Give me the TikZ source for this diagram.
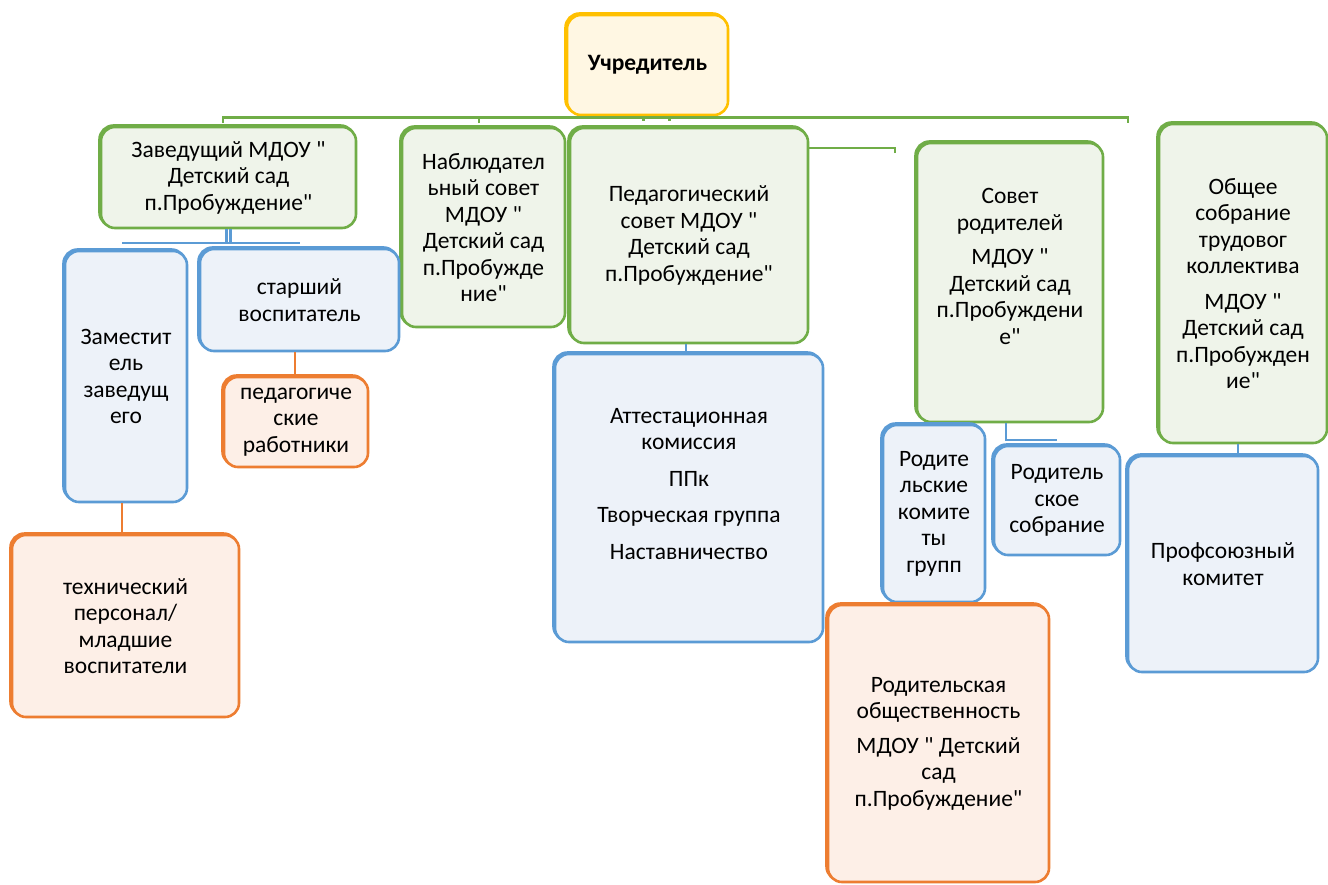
\documentclass[tikz,border=0pt]{standalone}
\usepackage{fontspec}
\setmainfont{Carlito}[Ligatures=TeXOff]
\usetikzlibrary{calc}
\definecolor{gB}{HTML}{70AD47}
\definecolor{gF}{HTML}{EFF4EA}
\definecolor{bB}{HTML}{5B9BD5}
\definecolor{bF}{HTML}{EDF2F9}
\definecolor{oB}{HTML}{ED7D31}
\definecolor{oF}{HTML}{FDEFE7}
\definecolor{yB}{HTML}{FFC000}
\definecolor{yF}{HTML}{FFF7E3}
\newcommand\diagfont{\fontsize{23.5}{26.5}\selectfont}
\begin{document}
\begin{tikzpicture}[x=1pt,y=-1pt,
  box/.style={rounded corners=14, line width=2.6, inner sep=0, align=center, font=\diagfont},
  gbox/.style={box, draw=gB, fill=gF, preaction={draw=gB, line width=2.6, transform canvas={shift={(-1.5pt,1.5pt)}}}},
  bbox/.style={box, draw=bB, fill=bF, preaction={draw=bB, line width=2.6, transform canvas={shift={(-1.5pt,1.5pt)}}}},
  obox/.style={box, draw=oB, fill=oF, preaction={draw=oB, line width=2.6, transform canvas={shift={(-1.5pt,1.5pt)}}}},
  ybox/.style={box, draw=yB, fill=yF, preaction={draw=yB, line width=2.6, transform canvas={shift={(-1.5pt,1.5pt)}}}},
  gline/.style={draw=gB, line width=2.5},
  bline/.style={draw=bB, line width=2.5},
  oline/.style={draw=oB, line width=2.5},
  lbl/.style={font=\diagfont, align=center}]
\useasboundingbox[fill=white] (0,0) rectangle (1328,884);

% boxes
\node[ybox, minimum width=161, minimum height=100] (uch) at (647.5,65) {\textbf{Учредитель}};
\node[gbox, minimum width=255, minimum height=101] (zav) at (228.5,177.5) {Заведущий МДОУ "\\Детский сад\\п.Пробуждение"};
\node[gbox, minimum width=163, minimum height=199] (nab) at (483.5,227.5) {Наблюдател\\ьный совет\\МДОУ "\\Детский сад\\п.Пробужде\\ние"};
\node[gbox, minimum width=238, minimum height=215] (ped) at (689,235.5) {Педагогический\\совет МДОУ "\\Детский сад\\п.Пробуждение"};
\node[gbox, minimum width=186, minimum height=279,
  label={[lbl, yshift=16]center:{Совет\\родителей\\[8pt]МДОУ "\\Детский сад\\п.Пробуждени\\е"}}] (sov) at (1010,282.5) {};
\node[gbox, minimum width=168, minimum height=319] (obs) at (1243,283.5) {Общее\\собрание\\трудовог\\коллектива\\[9pt]МДОУ "\\Детский сад\\п.Пробужден\\ие"};
\node[bbox, minimum width=122, minimum height=251] (zam) at (126,376.5) {Заместит\\ель\\заведущ\\его};
\node[bbox, minimum width=199, minimum height=102] (star) at (299.5,300) {старший\\воспитатель};
\node[obox, minimum width=144, minimum height=90] (pr) at (296,422) {педагогиче\\ские\\работники};
\node[obox, minimum width=227, minimum height=182] (teh) at (125.5,626) {технический\\персонал/\\младшие\\воспитатели};
\node[bbox, minimum width=268, minimum height=288,
  label={[lbl, yshift=14]center:{Аттестационная\\комиссия\\[10pt]ППк\\[10pt]Творческая группа\\[10pt]Наставничество}}] (att) at (689,498) {};
\node[bbox, minimum width=102, minimum height=177] (rk) at (934,513.5) {Родите\\льские\\комите\\ты\\групп};
\node[bbox, minimum width=126, minimum height=109] (rs) at (1057,500.5) {Родитель\\ское\\собрание};
\node[obox, minimum width=221, minimum height=277] (ro) at (938.5,743.5) {Родительская\\общественность\\[8pt]МДОУ " Детский\\сад\\п.Пробуждение"};
\node[bbox, minimum width=190, minimum height=216] (prof) at (1223,564) {Профсоюзный\\комитет};

% green bus under the founder
\coordinate (bus) at (0,117.5);
\coordinate (bL) at (223,123);
\coordinate (bM) at (479,123);
\coordinate (bR) at (1128,123);
\draw[gline] (bL) -- (bL |- bus) -- (bR |- bus) -- (bR);
\draw[gline] (bM) -- (bM |- bus);
\draw[gline] (uch.south) -- (uch.south |- bus);
\draw[gline] ([xshift=-4]uch.south) -- ++(0,5);
\draw[gline] ([xshift=22]uch.south) -- ++(0,5);

% line from pedagogical council to the right
\coordinate (pk) at (895,153);
\draw[gline] (pk) -- ++(0,-5) -- (ped.east |- {0,148});

% head -> deputies
\coordinate (zl) at (122,243);
\coordinate (zr) at (300,243);
\draw[bline] ([xshift=-2]zav.south) -- ([xshift=-2]zav.south |- zl);
\draw[bline] ([xshift=2]zav.south) -- ([xshift=2]zav.south |- zl);
\draw[bline] (zl) -- (zr);

% senior teacher -> teachers
\draw[oline] ([xshift=-4.5]star.south) -- ([xshift=-4.5]star.south |- pr.north) -- ++(-3,0);
% deputy -> technical staff
\draw[oline] ([xshift=-4]zam.south) -- ([xshift=-4]zam.south |- teh.north);
% pedagogical council -> commissions
\draw[bline] ([xshift=-3]ped.south) -- ([xshift=-3]ped.south |- att.north);
% parents council -> meeting
\coordinate (sr) at (1057,440);
\draw[bline] ([xshift=-4]sov.south) -- ([xshift=-4]sov.south |- sr) -- (sr);
% general meeting -> trade union
\draw[bline] ([xshift=-5]obs.south) -- ++(0,10) -- ++(-10,0);
\end{tikzpicture}
\end{document}
